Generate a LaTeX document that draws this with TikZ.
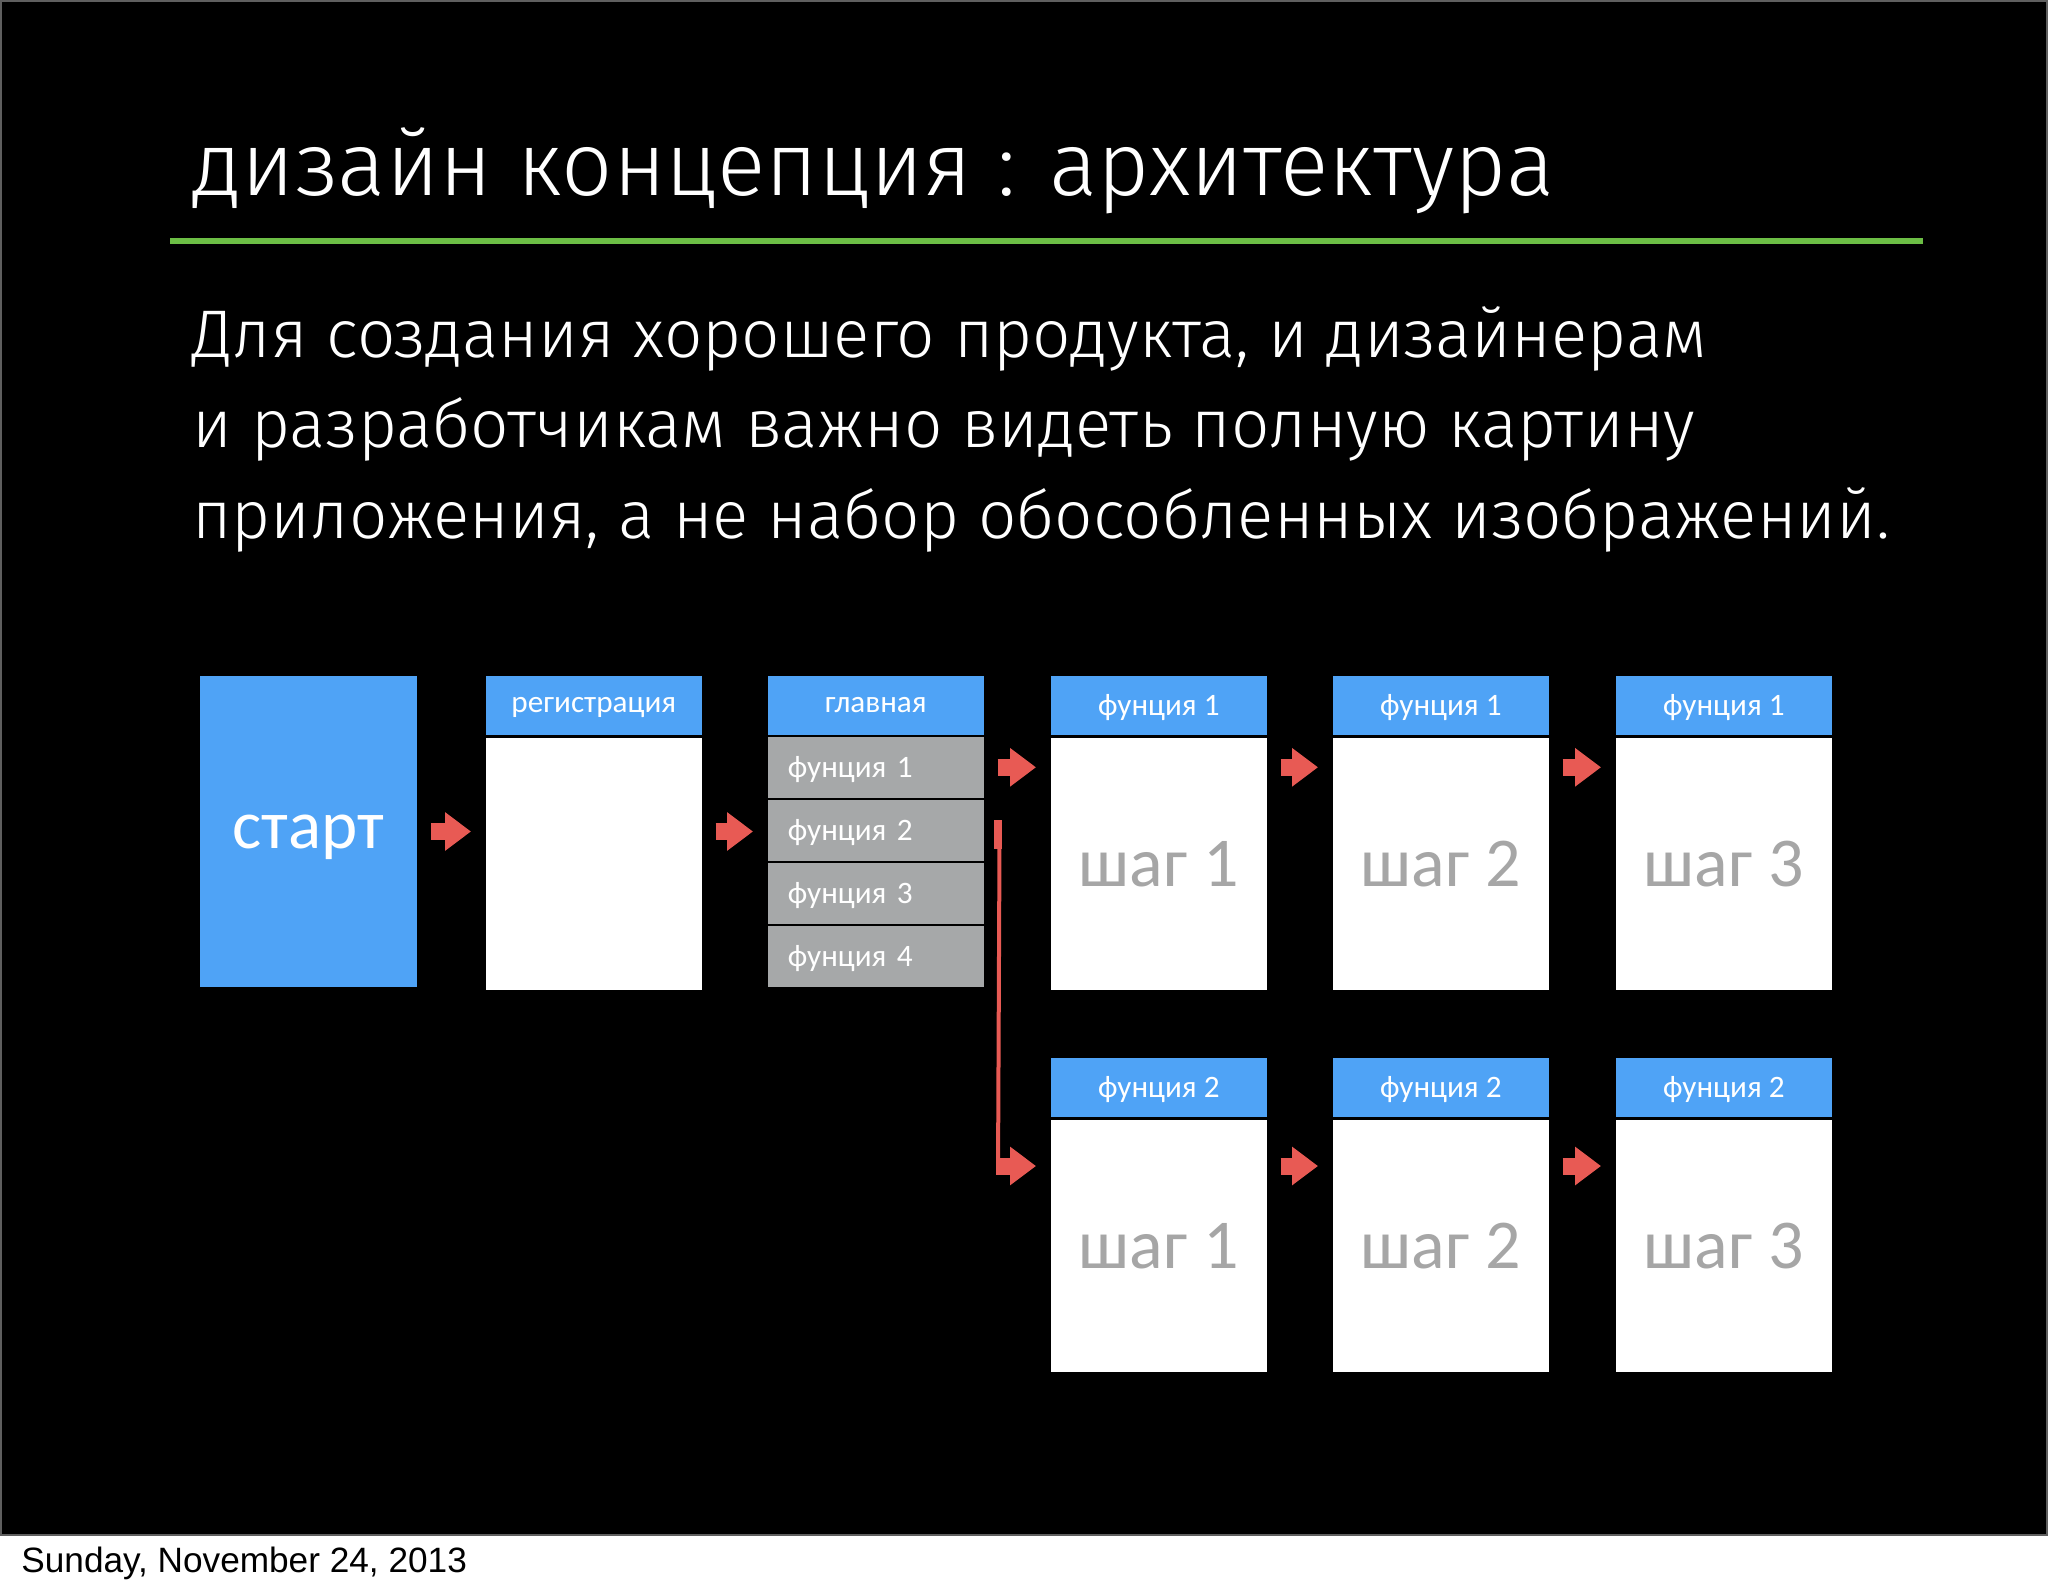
\documentclass[tikz,border=0pt]{standalone}
\usepackage{fontspec}
\setmainfont{Carlito}
\newfontfamily\thinfont{Fira Sans Light}
\newfontfamily\datefont{Liberation Sans}
\usetikzlibrary{arrows.meta,positioning}
\definecolor{slideblue}{RGB}{79,163,246}
\definecolor{slidered}{RGB}{232,90,84}
\definecolor{slidegreen}{RGB}{108,190,69}
\definecolor{itemgray}{RGB}{166,168,169}
\definecolor{shaggray}{RGB}{166,166,166}
\definecolor{framegray}{RGB}{95,95,95}

\begin{document}
\begin{tikzpicture}[x=0.5pt, y=-0.5pt,
  screen/.style={draw=black, line width=0.8pt, minimum width=109pt, inner sep=0pt,
    text depth=0pt, font=\fontsize{15.6}{18}\selectfont},
  head/.style={screen, fill=slideblue, text=white, minimum height=30.5pt, anchor=north west},
  body/.style={screen, fill=white, text=shaggray, minimum height=126.5pt,
    font=\fontsize{35}{40}\selectfont},
  item/.style={screen, fill=itemgray, text=white, minimum height=31.5pt,
    text width=88pt, inner xsep=10.5pt, align=left},
  startbox/.style={screen, fill=slideblue, text=white, minimum width=109.5pt,
    minimum height=156.5pt, font=\fontsize{34.5}{40}\selectfont},
  line/.style={anchor=base west, inner sep=0pt, text=white,
    font=\thinfont\fontsize{33.7}{40}\selectfont},
  flow/.style={draw=slidered, line width=8.5pt, -{Triangle[width=18.5pt,length=13pt]},
    shorten <=6pt, shorten >=6.5pt}]
\useasboundingbox (0,0) rectangle (2048,1593);
\fill[white] (0,0) rectangle (2048,1593);
\fill[black] (0,0) rectangle (2048,1536);
\draw[framegray, line width=1pt] (1,1) rectangle (2047,1535);

% title and text
\node[anchor=base west, inner sep=0pt, text=white, font=\thinfont\fontsize{45}{50}\selectfont]
  (title) at (192,196) {дизайн концепция : архитектура};
\draw[slidegreen, line width=3pt] (170,241) -- (1923,241);
\node[line] (intro1) at (192,358) {Для создания хорошего продукта, и дизайнерам};
\node[line] (intro2) at (192,448) {и разработчикам важно видеть полную картину};
\node[line] (intro3) at (192,538) {приложения, а не набор обособленных изображений.};

% screens
\node[startbox] (start) at (308.5,831.5) {старт};
\node[head] (reg-h) at (484,674) {регистрация};
\node[body, below=0pt of reg-h] (reg-b) {};
\node[head] (main-h) at (766,674) {главная};
\foreach \i in {1,...,4}
  \node[item, anchor=north west] (m\i) at (766,{735+63*(\i-1)}) {фунция \i};
\foreach \c/\x in {1/1049,2/1331,3/1614} {
  \node[head] (f1\c-h) at (\x,674) {фунция 1};
  \node[body, below=0pt of f1\c-h] (f1\c-b) {шаг \c};
  \node[head] (f2\c-h) at (\x,1056) {фунция 2};
  \node[body, below=0pt of f2\c-h] (f2\c-b) {шаг \c};
}

% arrows
\draw[flow] (start.east) -- (start.east -| reg-b.west);
\draw[flow] (reg-b.east |- start.east) -- (start.east -| main-h.west);
\draw[flow] (m1.east) -- (m1.east -| f11-b.west);
\draw[flow] (f11-b.east |- m1.east) -- (m1.east -| f12-b.west);
\draw[flow] (f12-b.east |- m1.east) -- (m1.east -| f13-b.west);

% branch to second feature
\coordinate (turn) at (998,1166);
\fill[slidered] ([xshift=4pt,yshift=5pt]m2.east) rectangle ++(4pt,-14.5pt);
\draw[slidered, line width=2pt] ([xshift=7pt,yshift=5pt]m2.east) -- ([yshift=-4pt]turn);
\draw[flow, shorten <=0pt] ([xshift=-1pt]turn) -- (turn -| f21-b.west);
\draw[flow] (f21-b.east |- turn) -- (turn -| f22-b.west);
\draw[flow] (f22-b.east |- turn) -- (turn -| f23-b.west);

% date
\node[anchor=base west, inner sep=0pt, font=\datefont\fontsize{17.6}{20}\selectfont]
  (date) at (21,1572) {Sunday, November 24, 2013};
\end{tikzpicture}
\end{document}
